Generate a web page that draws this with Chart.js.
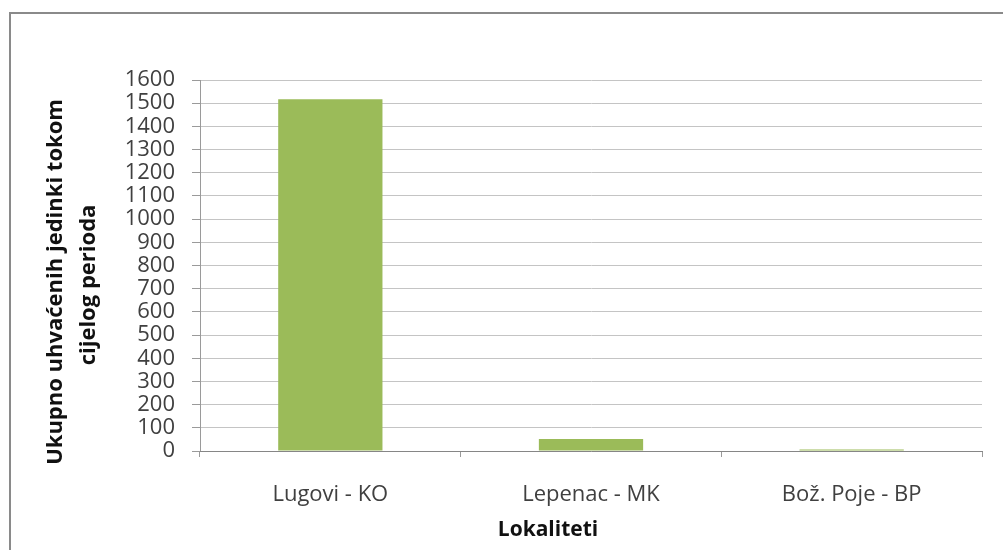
<!DOCTYPE html>
<html>
<head>
<meta charset="utf-8">
<script src="https://cdn.jsdelivr.net/npm/chart.js@4"></script>
<style>
  html, body { margin: 0; padding: 0; background: #fff; overflow: hidden; }
  #wrap { position: relative; width: 1003px; height: 550px; }
  #frame { position: absolute; left: 9px; top: 12px; width: 1010px; height: 560px; border: 2px solid #8a8a8a; box-sizing: border-box; }
  canvas { position: absolute; left: 0; top: 0; }
</style>
</head>
<body>
<div id="wrap">
  <div id="frame"></div>
  <canvas id="chart" width="1003" height="550"></canvas>
</div>
<script>
// data
var categories = ['Lugovi - KO', 'Lepenac - MK', 'Bož. Poje - BP'];
var values = [1517, 52, 7];
var yTitle = ['Ukupno uhvaćenih jedinki tokom', 'cijelog perioda'];
var xTitle = 'Lokaliteti';

// axis titles are centred on the whole frame (excel style), not on the plot area
var titlesPlugin = {
  id: 'axisTitles',
  afterDraw: function(c) {
    var g = c.ctx;
    g.save();
    g.font = 'bold 22px "Open Sans"';
    g.fillStyle = '#111';
    g.textAlign = 'center';
    g.textBaseline = 'alphabetic';
    var spots = [[62, 282], [95, 285]];
    yTitle.forEach(function(line, i) {
      g.save();
      g.translate(spots[i][0], spots[i][1]);
      g.rotate(-Math.PI / 2);
      g.fillText(line, 0, 0);
      g.restore();
    });
    g.font = 'bold 21px "Open Sans"';
    g.textBaseline = 'middle';
    g.fillText(xTitle, 548, 530);
    g.restore();
  }
};

var ctx = document.getElementById('chart').getContext('2d');
var chart = new Chart(ctx, {
  type: 'bar',
  data: {
    labels: categories,
    datasets: [{
      data: values,
      backgroundColor: '#9bbb59',
      borderWidth: 0,
      categoryPercentage: 0.8,
      barPercentage: 0.5
    }]
  },
  plugins: [titlesPlugin],
  options: {
    responsive: false,
    animation: false,
    layout: { padding: { left: 0, top: 80, right: 21, bottom: 0 } },
    plugins: {
      legend: { display: false },
      tooltip: { enabled: false }
    },
    scales: {
      y: {
        min: 0,
        max: 1600,
        afterFit: function(s) { s.width = 200; },
        ticks: {
          stepSize: 100,
          autoSkip: false,
          padding: 17,
          color: '#404040',
          font: { family: 'Open Sans', size: 22, lineHeight: 1 },
          callback: function(v) { return String(v); }
        },
        grid: {
          color: '#c4c4c4',
          lineWidth: 1,
          tickLength: 8,
          tickColor: '#9a9a9a'
        },
        border: { color: '#9a9a9a' },
        title: { display: false }
      },
      x: {
        afterFit: function(s) { s.height = 99; },
        ticks: {
          padding: 25,
          color: '#404040',
          font: { family: 'Open Sans', size: 22 }
        },
        grid: {
          display: true,
          drawOnChartArea: false,
          tickLength: 6,
          tickColor: '#9a9a9a'
        },
        border: { color: '#868686' },
        title: { display: false }
      }
    }
  }
});
</script>
</body>
</html>
